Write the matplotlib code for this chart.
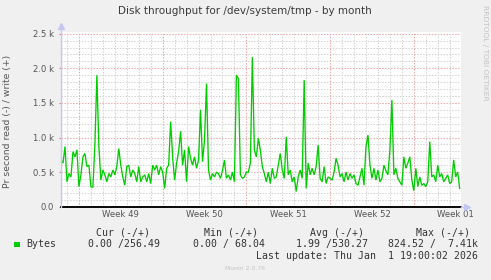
import numpy as np
import pandas as pd
import matplotlib
matplotlib.use("Agg")
import matplotlib.pyplot as plt
import matplotlib.dates as mdates

# ---------------- data ----------------
title = "Disk throughput for /dev/system/tmp - by month"
ylabel = "Pr second read (-) / write (+)"
series_name = "Bytes"
start_time = "2025-11-29 12:00"
step = "4h"

write_bps = [
    675, 630, 870, 360, 480, 430, 795, 720, 820, 290,
    460, 720, 770, 580, 600, 290, 280, 890, 1900, 870,
    385, 530, 460, 360, 480, 430, 530, 460, 580, 840,
    600, 430, 310, 580, 600, 430, 530, 480, 360, 580,
    360, 430, 460, 360, 480, 335, 600, 530, 600, 460,
    580, 500, 265, 555, 600, 1230, 720, 385, 630, 795,
    1090, 600, 820, 360, 870, 700, 600, 720, 555, 675,
    1400, 650, 960, 1780, 530, 385, 480, 430, 500, 480,
    410, 520, 675, 410, 460, 385, 500, 360, 1900, 1850,
    460, 410, 430, 500, 500, 630, 2160, 820, 720, 990,
    820, 580, 480, 360, 500, 335, 555, 410, 430, 600,
    770, 530, 410, 1010, 460, 530, 360, 430, 220, 430,
    530, 410, 1830, 265, 630, 460, 555, 460, 580, 890,
    410, 360, 580, 335, 430, 410, 385, 500, 700, 600,
    430, 480, 360, 500, 385, 480, 410, 460, 335, 310,
    430, 555, 310, 870, 1035, 600, 410, 555, 385, 530,
    360, 410, 600, 520, 460, 820, 1540, 460, 555, 410,
    360, 310, 720, 555, 630, 720, 385, 230, 555, 290,
    430, 310, 335, 290, 360, 940, 430, 460, 360, 600,
    430, 480, 360, 410, 460, 335, 360, 675, 430, 500,
    265,
]
read_bps = [0.0] * len(write_bps)

ytick_values = [0, 500, 1000, 1500, 2000, 2500]
ytick_labels = ["0.0", "0.5 k", "1.0 k", "1.5 k", "2.0 k", "2.5 k"]
week_starts = ["2025-12-01", "2025-12-08", "2025-12-15", "2025-12-22", "2025-12-29"]
week_labels = ["Week 49", "Week 50", "Week 51", "Week 52", "Week 01"]

legend_headers = ["Cur (-/+)", "Min (-/+)", "Avg (-/+)", "Max (-/+)"]
legend_values = ["0.00 /256.49", "0.00 / 68.04", "1.99 /530.27", "824.52 /  7.41k"]
last_update = "Last update: Thu Jan  1 19:00:02 2026"
footer = "Munin 2.0.76"
watermark = "RRDTOOL / TOBI OETIKER"

# ---------------- figure ----------------
W, H = 491, 280
BG = "#F0F0F0"
GREEN = "#00CC00"
fig = plt.figure(figsize=(W / 100, H / 100), dpi=100, facecolor=BG)

def fx(px):
    return px / W

def fy(py):
    return 1 - py / H

ax = fig.add_axes([fx(61), fy(206.7), 400 / W, 175 / H])
ax.set_facecolor("white")

times = pd.date_range(start_time, periods=len(write_bps), freq=step)
tnum = mdates.date2num(times.to_pydatetime())
x0 = tnum[0]
x1 = x0 + 400 / 11.96
ax.set_xlim(x0, x1)
ax.set_ylim(0, 2500 * 175 / 173)

# grid
dash = (0, (1.4, 1.4))
for v in np.arange(100, 2600, 100):
    if v % 500 == 0:
        ax.axhline(v, color="#f0a8a8", lw=0.75, ls=dash, zorder=1)
    else:
        ax.axhline(v, color="#d4d4d4", lw=0.75, ls=dash, zorder=1)
wk = mdates.date2num(pd.to_datetime(week_starts).to_pydatetime())
days = mdates.date2num(pd.date_range("2025-11-30", "2026-01-02", freq="1D").to_pydatetime())
for d in days:
    if not np.any(np.isclose(d, wk)):
        ax.axvline(d, color="#d4d4d4", lw=0.75, ls=dash, zorder=1)
for d in wk:
    ax.axvline(d, color="#f0a8a8", lw=0.75, ls=dash, zorder=1)

# data
ax.plot(tnum, write_bps, color=GREEN, lw=0.95, zorder=3, solid_joinstyle="miter")
ax.plot(tnum, [-r for r in read_bps], color="black", lw=1.1, zorder=4, clip_on=False)
ax.plot([x0, x1], [0, 0], color="black", lw=1.1, zorder=4, clip_on=False)

# spines
for s in ax.spines.values():
    s.set_visible(False)
axis_col = "#c4c8f0"
ax.plot([0, 0], [0, 1.03], transform=ax.transAxes, color=axis_col, lw=1.0, clip_on=False, zorder=5)
ax.plot([0], [1.03], transform=ax.transAxes, marker="^", ms=4, color=axis_col, clip_on=False, zorder=5)
ax.plot([1.0, 1.015], [0, 0], transform=ax.transAxes, color=axis_col, lw=1.0, clip_on=False, zorder=5)
ax.plot([1.015], [0], transform=ax.transAxes, marker=">", ms=4, color=axis_col, clip_on=False, zorder=5)

# ticks
tick_col = "#555555"
ax.set_yticks(ytick_values)
ax.set_yticklabels(ytick_labels)
ax.tick_params(axis="y", length=1.5, color="#e08080", pad=3.4, labelsize=6.1, labelcolor=tick_col)
mids = wk + 3.5
ax.set_xticks(mids)
ax.set_xticklabels(week_labels)
ax.tick_params(axis="x", length=0, pad=2.6, labelsize=6.1, labelcolor=tick_col)

# texts
fig.text(fx(245), fy(11.5), title, ha="center", va="center", fontsize=7.45, color="#3a3a3a")
fig.text(fx(7.3), fy(121.5), ylabel, ha="center", va="center", rotation=90, fontsize=6.7, color="#555555")
fig.text(fx(485), fy(53), watermark, ha="center", va="center", rotation=-90, fontsize=5.4, color="#c4c4c4")

mono = "DejaVu Sans Mono"
lc = "#333333"
fig.patches.append(plt.Rectangle((fx(14), fy(247.3)), 5.5 / W, 5.5 / H, transform=fig.transFigure,
                                 facecolor=GREEN, edgecolor="none"))
fig.text(fx(26.5), fy(244.3), series_name, ha="left", va="center", family=mono, fontsize=7.1, color=lc)
head_right = [150.5, 257.5, 363.5, 470.5]
val_right = [160, 265, 367.5, 477.5]
for h, xr in zip(legend_headers, head_right):
    fig.text(fx(xr), fy(232.7), h, ha="right", va="center", family=mono, fontsize=7.1, color=lc)
for v, xr in zip(legend_values, val_right):
    fig.text(fx(xr), fy(244.3), v, ha="right", va="center", family=mono, fontsize=7.1, color=lc)
fig.text(fx(477.5), fy(256), last_update, ha="right", va="center", family=mono, fontsize=7.1, color=lc)
fig.text(fx(245), fy(268.3), footer, ha="center", va="center", fontsize=4.4, color="#c4c4c4")

fig.savefig("out.png", dpi=100, facecolor=BG)
